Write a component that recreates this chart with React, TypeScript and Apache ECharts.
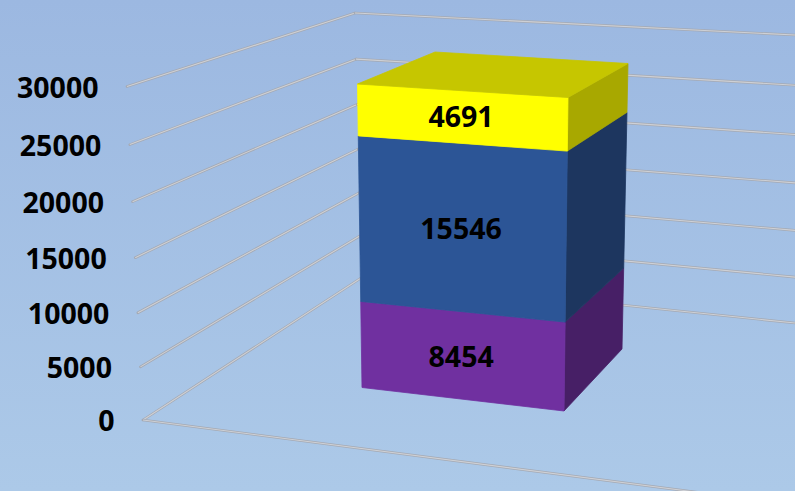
import React, { useEffect, useRef } from "react";
import * as echarts from "echarts";

// ---- data ----
const tickValues = [0, 5000, 10000, 15000, 20000, 25000, 30000];
const purpleValues = [8454];
const blueValues = [15546];
const yellowValues = [4691];

// ---- styling / projection geometry ----
const AXIS_MAX = 30000;
const W = 1.055; // perspective foreshortening of the vertical axis
type P = [number, number];
const wallFront: [P, P] = [[143, 420], [127, 86.5]];
const wallBack: [P, P] = [[361, 278], [355, 13]];
const wallRight: [P, P] = [[795, 323], [795, 35]];
const floorEnd: P = [795, 505];
const barFL: [P, P] = [[362, 387.5], [357.5, 84]];
const barFR: [P, P] = [[564, 411], [568, 97.5]];
const barBR: [P, P] = [[622, 349], [628, 63.5]];
const barBLTop: P = [435, 52];
const FONT = '700 28.5px "Open Sans", sans-serif';

const persp = (u: number) => (u <= 0 ? 0 : u / (u + (1 - u) * W));
const onEdge = (edge: [P, P], u: number): P => {
  const f = persp(Math.min(u, 1));
  return [edge[0][0] + (edge[1][0] - edge[0][0]) * f, edge[0][1] + (edge[1][1] - edge[0][1]) * f];
};
const axisFrac = (api: any, v: number) => {
  const y0 = api.coord([0, 0])[1];
  const y1 = api.coord([0, AXIS_MAX])[1];
  return (y0 - api.coord([0, v])[1]) / (y0 - y1);
};

const wireLine = (a: P, b: P) => [
  { type: "polygon", shape: { points: [a, b] }, style: { fill: "none", stroke: "#a4a9b3", lineWidth: 2.6, lineJoin: "round" } },
  { type: "polygon", shape: { points: [a, b] }, style: { fill: "none", stroke: "#ced0d5", lineWidth: 1.1 } },
];

const renderTick = (_: any, api: any) => {
  const v = api.value(1);
  const u = axisFrac(api, v);
  const a = onEdge(wallFront, u);
  const b = onEdge(wallBack, u);
  const c = onEdge(wallRight, u);
  const children: any[] = [...wireLine(a, b), ...wireLine(b, c)];
  if (v === 0) children.push(...wireLine(a, floorEnd));
  children.push({
    type: "text",
    style: {
      text: String(v),
      x: a[0] - 28.5,
      y: a[1] + 0.2,
      align: "right",
      verticalAlign: "middle",
      font: FONT,
      fill: "#000000",
    },
  });
  return { type: "group", children };
};

const poly = (points: P[], fill: string, stroke = fill) => ({
  type: "polygon",
  shape: { points },
  style: { fill, stroke, lineWidth: 0.8 },
});

const labelNudge: Record<number, number> = { 0: 1, 1: 0, 2: -1 };

const renderSegment =
  (order: number, base: number, front: string, side: string, top?: string) => (_: any, api: any) => {
    const total = purpleValues[0] + blueValues[0] + yellowValues[0];
    const val = api.value(1);
    const ref = axisFrac(api, total);
    const lo = axisFrac(api, base) / ref;
    const hi = axisFrac(api, base + val) / ref;
    const fl0 = onEdge(barFL, lo), fl1 = onEdge(barFL, hi);
    const fr0 = onEdge(barFR, lo), fr1 = onEdge(barFR, hi);
    const br0 = onEdge(barBR, lo), br1 = onEdge(barBR, hi);
    const children: any[] = [
      poly([fr0, br0, br1, fr1], side),
      poly([fl0, fr0, fr1, fl1], front),
    ];
    if (top) children.push(poly([fl1, fr1, br1, barBLTop], top));
    children.push({
      type: "text",
      style: {
        text: String(val),
        x: (fl0[0] + fr0[0] + fl1[0] + fr1[0]) / 4 - 1.8,
        y: (fl0[1] + fr0[1] + fl1[1] + fr1[1]) / 4 + labelNudge[order],
        align: "center",
        verticalAlign: "middle",
        font: FONT,
        fill: "#000000",
      },
    });
    return { type: "group", children };
  };

const custom = (name: string, data: number[], renderItem: any, z: number) => ({
  type: "custom",
  name,
  silent: true,
  clip: false,
  z,
  data: data.map((v) => [0, v]),
  renderItem,
});

export default function App() {
  const ref = useRef<HTMLDivElement>(null);
  useEffect(() => {
    document.body.style.margin = "0";
    const chart = echarts.init(ref.current!, undefined, { renderer: "svg" });
    chart.setOption({
      animation: false,
      backgroundColor: {
        type: "linear",
        x: 0,
        y: 0,
        x2: 0,
        y2: 1,
        colorStops: [
          { offset: 0, color: "#9cb8e1" },
          { offset: 1, color: "#acc9e8" },
        ],
      },
      grid: { left: 0, right: 0, top: 0, bottom: 0 },
      xAxis: { type: "value", min: 0, max: 1, show: false },
      yAxis: { type: "value", min: 0, max: AXIS_MAX, interval: 5000, show: false },
      series: [
        custom("axis", tickValues, renderTick, 1),
        custom("purple", purpleValues, renderSegment(0, 0, "#7030a0", "#471f66"), 2),
        custom("blue", blueValues, renderSegment(1, purpleValues[0], "#2c5596", "#1d365f"), 3),
        custom(
          "yellow",
          yellowValues,
          renderSegment(2, purpleValues[0] + blueValues[0], "#ffff00", "#a8a800", "#c6c600"),
          4
        ),
      ],
    });
    return () => chart.dispose();
  }, []);
  return <div ref={ref} style={{ position: "absolute", left: 0, top: 0, width: 795, height: 491 }} />;
}
